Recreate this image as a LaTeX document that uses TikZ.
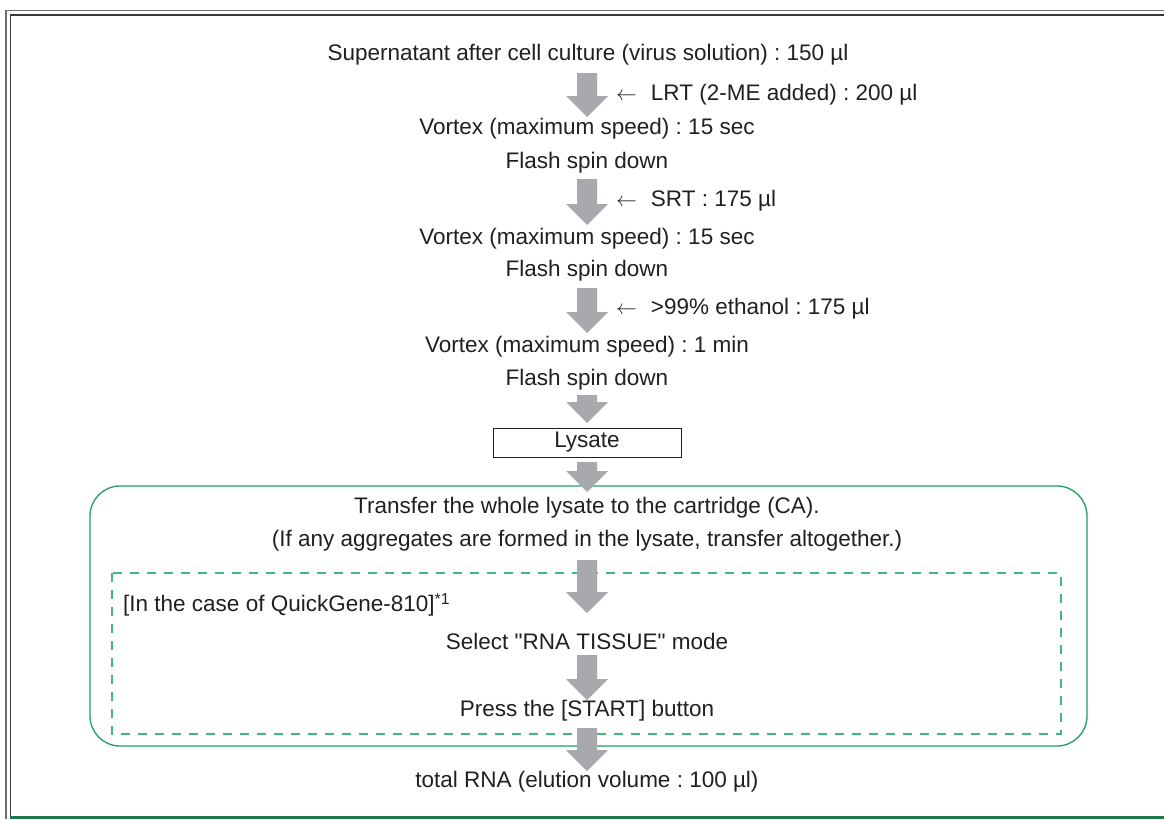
\documentclass[tikz,border=0pt]{standalone}
\usepackage{fontspec}
\setmainfont{Liberation Sans}[Ligatures=TeXOff]
\frenchspacing
\definecolor{txt}{HTML}{231F20}
\definecolor{agray}{HTML}{A7A9AC}
\definecolor{gsolid}{HTML}{1FA060}
\definecolor{gdash}{HTML}{45B57F}
\definecolor{framegray}{HTML}{6D6E70}
\definecolor{framedark}{HTML}{3A3A3C}
\definecolor{gbottom}{HTML}{1B7A45}
\newcommand{\blockarrow}[3]{% name, top y, tip y
  \coordinate (#1) at (587,#2);
  \fill[agray] (577,#2) -- (597,#2) -- (597,{#3-21}) -- (608,{#3-21}) -- (587,#3)
     -- (566,{#3-21}) -- (577,{#3-21}) -- cycle;}
\begin{document}
\begin{tikzpicture}[x=1pt,y=-1pt,
  lbl/.style={font=\fontsize{22.5}{27}\selectfont, text=txt, inner sep=0pt},
]
\useasboundingbox (0,0) rectangle (1164,819);
% outer frame
\draw[framegray, line width=1.8pt] (6,819) -- (6,10.5) -- (1164,10.5);
\draw[framedark, line width=1.6pt] (10.5,819) -- (10.5,15) -- (1164,15);
\draw[gbottom, line width=2.2pt] (10,817.5) -- (1164,817.5);
% green boxes
\draw[gsolid, line width=1.3pt, rounded corners=30pt] (90,486) rectangle (1087,746);
\draw[gdash, line width=1.3pt, dash pattern=on 9pt off 8pt] (112,573) rectangle (1061,734);
% texts
\node[lbl] (t1) at (588,55) {Supernatant after cell culture (virus solution) : 150 µl};
\node[lbl, anchor=west] (r1) at (616,95) {$\leftarrow$\hspace{14pt}LRT (2-ME added) : 200 µl};
\node[lbl] (t2) at (587,129) {Vortex (maximum speed) : 15 sec};
\node[lbl] (t3) at (587,163) {Flash spin down};
\node[lbl, anchor=west] (r2) at (616,201) {$\leftarrow$\hspace{14pt}SRT : 175 µl};
\node[lbl] (t4) at (587,239) {Vortex (maximum speed) : 15 sec};
\node[lbl] (t5) at (587,271) {Flash spin down};
\node[lbl, anchor=west] (r3) at (616,309) {$\leftarrow$\hspace{14pt}>99\% ethanol : 175 µl};
\node[lbl] (t6) at (587,347) {Vortex (maximum speed) : 1 min};
\node[lbl] (t7) at (587,380) {Flash spin down};
\node[lbl, draw=txt, line width=0.8pt, minimum width=188pt, minimum height=29pt] (lys) at (587,442.5) {Lysate};
\node[lbl] (t8) at (587,508) {Transfer the whole lysate to the cartridge (CA).};
\node[lbl] (t9) at (587,541) {(If any aggregates are formed in the lysate, transfer altogether.)};
\node[lbl, anchor=west] (qg) at (123,605) {[In the case of QuickGene-810]\textsuperscript{*1}};
\node[lbl] (t10) at (587,641) {Select "RNA TISSUE" mode};
\node[lbl] (t11) at (587,711) {Press the [START] button};
\node[lbl] (t12) at (587,782) {total RNA (elution volume : 100 µl)};
% block arrows
\blockarrow{a1}{73}{117}
\blockarrow{a2}{179}{225}
\blockarrow{a3}{288}{333}
\blockarrow{a4}{395}{423}
\blockarrow{a5}{462}{492}
\blockarrow{a6}{560}{613}
\blockarrow{a7}{655}{700}
\blockarrow{a8}{728}{771}
\end{tikzpicture}
\end{document}
